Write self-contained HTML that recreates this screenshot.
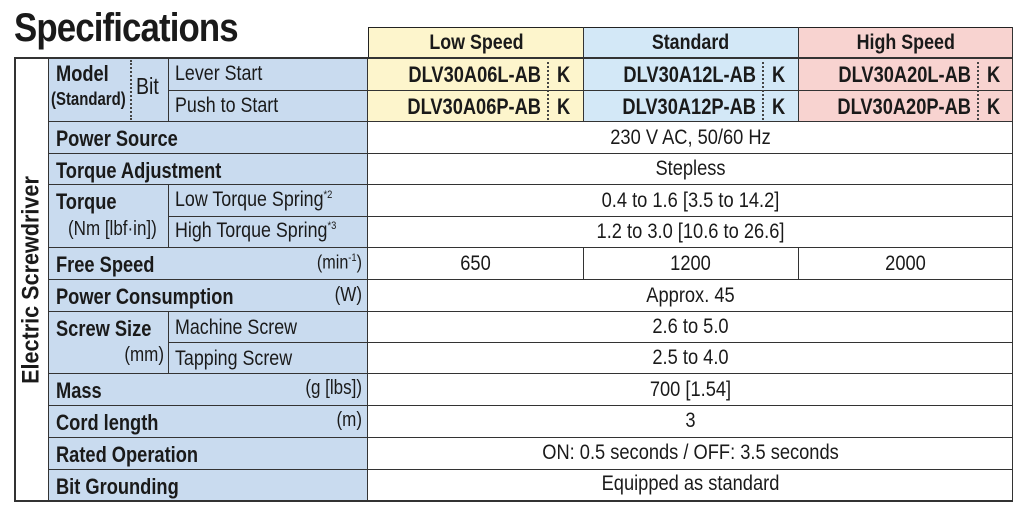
<!DOCTYPE html><html><head><style>
body{margin:0;width:1024px;height:511px;background:#fff;position:relative;overflow:hidden;font-family:"Liberation Sans",sans-serif;color:#1a1a1a}
div{position:absolute;box-sizing:border-box}
.t{font-size:40px;font-weight:bold;left:14px;top:6px;letter-spacing:-1px;transform:scaleX(0.87);transform-origin:left;white-space:nowrap}
.lb{background:#c9dbef}
.h{font-weight:bold;font-size:21px;text-align:center;line-height:29px;border:1.5px solid #222}
.h span{display:inline-block;transform:scaleX(0.85)}
.b{font-weight:bold;font-size:22px;transform:scaleX(0.83);transform-origin:left;white-space:nowrap}
.n{font-size:21px;transform:scaleX(0.85);transform-origin:left;white-space:nowrap}
.c{text-align:center;font-size:21px;transform:scaleX(0.87);transform-origin:center;white-space:nowrap}
.rt{transform-origin:right!important;text-align:right}
.hl{height:0;border-top:1.5px solid #333}
.vl{width:0;border-left:1.5px solid #333}
.dl{width:0;border-left:2px dotted #444}
</style></head><body>
<div class="t">Specifications</div>
<div class="h" style="left:368px;top:27px;width:216px;height:31px;background:#fdf5cc"><span>Low Speed</span></div>
<div class="h" style="left:583px;top:27px;width:216px;height:31px;background:#d3e8f7"><span>Standard</span></div>
<div class="h" style="left:798px;top:27px;width:215px;height:31px;background:#f8d3d0"><span>High Speed</span></div>
<div class="lb" style="left:49px;top:58px;width:319px;height:443px"></div>
<div style="left:368px;top:58px;width:215px;height:63px;background:#fdf5cc"></div>
<div style="left:583px;top:58px;width:215px;height:63px;background:#d3e8f7"></div>
<div style="left:798px;top:58px;width:215px;height:63px;background:#f8d3d0"></div>
<!-- frame -->
<div class="hl" style="left:14px;top:57px;width:999px;border-top-width:2px"></div>
<div class="hl" style="left:14px;top:500px;width:999px;border-top-width:2.5px"></div>
<div class="vl" style="left:14px;top:57px;height:445px;border-left-width:2.5px"></div>
<div class="vl" style="left:48px;top:57px;height:445px"></div>
<div class="vl" style="left:367px;top:57px;height:445px"></div>
<div class="vl" style="left:1012px;top:27px;height:475px"></div>
<div style="left:14px;top:58px;width:35px;height:443px;display:flex;align-items:center;justify-content:center"><span style="transform:rotate(-90deg) scaleX(0.9);white-space:nowrap;font-weight:bold;font-size:24px">Electric Screwdriver</span></div>
<!-- horizontal lines -->
<div class="hl" style="left:168px;top:90px;width:845px"></div>
<div class="hl" style="left:48px;top:121px;width:965px"></div>
<div class="hl" style="left:48px;top:153px;width:965px"></div>
<div class="hl" style="left:48px;top:184px;width:965px"></div>
<div class="hl" style="left:168px;top:216px;width:845px"></div>
<div class="hl" style="left:48px;top:247px;width:965px"></div>
<div class="hl" style="left:48px;top:279px;width:965px"></div>
<div class="hl" style="left:48px;top:311px;width:965px"></div>
<div class="hl" style="left:168px;top:342px;width:845px"></div>
<div class="hl" style="left:48px;top:373px;width:965px"></div>
<div class="hl" style="left:48px;top:405px;width:965px"></div>
<div class="hl" style="left:48px;top:437px;width:965px"></div>
<div class="hl" style="left:48px;top:469px;width:965px"></div>
<!-- vertical sub lines -->
<div class="vl" style="left:168px;top:58px;height:63px"></div>
<div class="dl" style="left:130px;top:60px;height:60px"></div>
<div class="vl" style="left:168px;top:184px;height:63px"></div>
<div class="vl" style="left:168px;top:311px;height:62px"></div>
<div class="vl" style="left:583px;top:27px;height:94px"></div>
<div class="vl" style="left:798px;top:27px;height:94px"></div>
<div class="vl" style="left:583px;top:247px;height:32px"></div>
<div class="vl" style="left:798px;top:247px;height:32px"></div>
<div class="dl" style="left:547px;top:62px;height:58px"></div>
<div class="dl" style="left:762px;top:62px;height:58px"></div>
<div class="dl" style="left:977px;top:62px;height:58px"></div>
<!-- labels -->
<div class="b" style="left:56px;top:61px">Model</div>
<div class="b" style="left:51px;top:89px;font-size:18px">(Standard)</div>
<div class="n" style="left:136px;top:73px;font-size:23px">Bit</div>
<div class="n" style="left:175px;top:62px">Lever Start</div>
<div class="n" style="left:175px;top:94px">Push to Start</div>
<div class="b" style="left:56px;top:126px">Power Source</div>
<div class="b" style="left:56px;top:158px">Torque Adjustment</div>
<div class="b" style="left:56px;top:189px">Torque</div>
<div class="n" style="left:68px;top:218px;font-size:20px">(Nm [lbf·in])</div>
<div class="n" style="left:175px;top:188px">Low Torque Spring<sup style="font-size:11px">*2</sup></div>
<div class="n" style="left:175px;top:219px">High Torque Spring<sup style="font-size:11px">*3</sup></div>
<div class="b" style="left:56px;top:252px">Free Speed</div>
<div class="n rt" style="left:262px;top:252px;width:100px;font-size:19px">(min<sup style="font-size:11px">-1</sup>)</div>
<div class="b" style="left:56px;top:284px">Power Consumption</div>
<div class="n rt" style="left:262px;top:284px;width:100px;font-size:20px">(W)</div>
<div class="b" style="left:56px;top:316px">Screw Size</div>
<div class="n rt" style="left:64px;top:344px;width:100px;font-size:20px">(mm)</div>
<div class="n" style="left:175px;top:316px">Machine Screw</div>
<div class="n" style="left:175px;top:347px">Tapping Screw</div>
<div class="b" style="left:56px;top:378px">Mass</div>
<div class="n rt" style="left:222px;top:377px;width:140px;font-size:20px">(g [lbs])</div>
<div class="b" style="left:56px;top:410px">Cord length</div>
<div class="n rt" style="left:262px;top:409px;width:100px;font-size:20px">(m)</div>
<div class="b" style="left:56px;top:442px">Rated Operation</div>
<div class="b" style="left:56px;top:474px">Bit Grounding</div>
<!-- models -->
<div class="b rt" style="left:341px;top:62px;width:200px">DLV30A06L-AB</div>
<div class="b rt" style="left:341px;top:94px;width:200px">DLV30A06P-AB</div>
<div class="b" style="left:557px;top:62px">K</div><div class="b" style="left:557px;top:94px">K</div>
<div class="b rt" style="left:556px;top:62px;width:200px">DLV30A12L-AB</div>
<div class="b rt" style="left:556px;top:94px;width:200px">DLV30A12P-AB</div>
<div class="b" style="left:772px;top:62px">K</div><div class="b" style="left:772px;top:94px">K</div>
<div class="b rt" style="left:771px;top:62px;width:200px">DLV30A20L-AB</div>
<div class="b rt" style="left:771px;top:94px;width:200px">DLV30A20P-AB</div>
<div class="b" style="left:987px;top:62px">K</div><div class="b" style="left:987px;top:94px">K</div>
<!-- values -->
<div class="c" style="left:368px;top:126px;width:645px">230 V AC, 50/60 Hz</div>
<div class="c" style="left:368px;top:157px;width:645px">Stepless</div>
<div class="c" style="left:368px;top:189px;width:645px">0.4 to 1.6 [3.5 to 14.2]</div>
<div class="c" style="left:368px;top:220px;width:645px">1.2 to 3.0 [10.6 to 26.6]</div>
<div class="c" style="left:368px;top:252px;width:215px">650</div>
<div class="c" style="left:583px;top:252px;width:215px">1200</div>
<div class="c" style="left:798px;top:252px;width:215px">2000</div>
<div class="c" style="left:368px;top:284px;width:645px">Approx. 45</div>
<div class="c" style="left:368px;top:315px;width:645px">2.6 to 5.0</div>
<div class="c" style="left:368px;top:346px;width:645px">2.5 to 4.0</div>
<div class="c" style="left:368px;top:378px;width:645px">700 [1.54]</div>
<div class="c" style="left:368px;top:409px;width:645px">3</div>
<div class="c" style="left:368px;top:441px;width:645px">ON: 0.5 seconds / OFF: 3.5 seconds</div>
<div class="c" style="left:368px;top:472px;width:645px">Equipped as standard</div>
</body></html>
